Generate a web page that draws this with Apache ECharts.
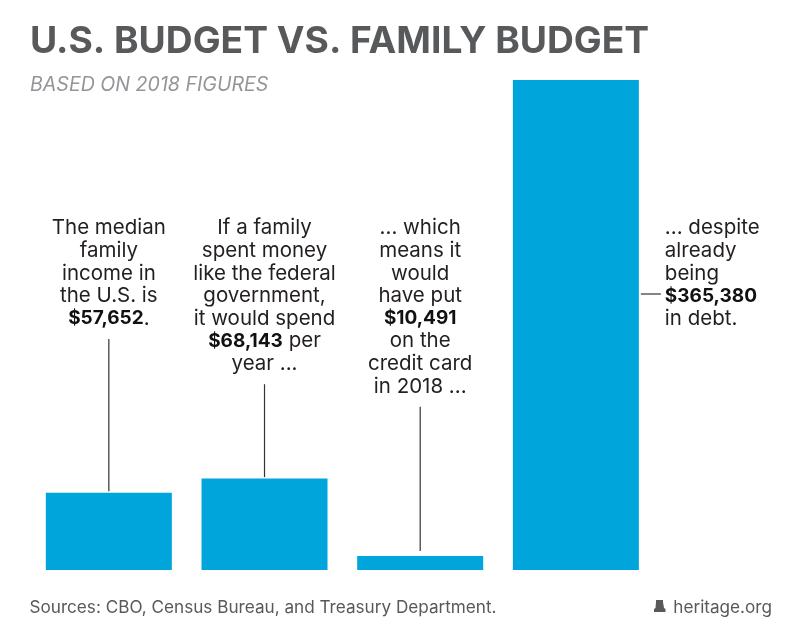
<!DOCTYPE html>
<html>
<head>
<meta charset="utf-8">
<style>
  html, body { margin: 0; padding: 0; background: #fff; }
  #chart { width: 800px; height: 644px; }
</style>
<script src="https://cdn.jsdelivr.net/npm/echarts@6/dist/echarts.min.js"></script>
</head>
<body>
<div id="chart"></div>
<script>
const categories = ['Median income', 'Spending', 'Borrowed', 'Debt'];
const budgetValues = [57652, 68143, 10491, 365380];
const noteTexts = [
  'The median\nfamily\nincome in\nthe U.S. is\n{b|$57,652}.',
  'If a family\nspent money\nlike the federal\ngovernment,\nit would spend\n{b|$68,143} per\nyear ...',
  '... which\nmeans it\nwould\nhave put\n{b|$10,491}\non the\ncredit card\nin 2018 ...',
  '... despite\nalready\nbeing\n{b|$365,380}\nin debt.'
];

const FONT = 'Inter, sans-serif';
const INK = '#231f20';
const LINE_H = 22.6;
const NOTE_SIZE = 20.5;
const NOTE_BOLD_SIZE = 19;

const chart = echarts.init(document.getElementById('chart'), null, { renderer: 'canvas' });

// leaders start just above the bar; the last note sits beside its bar instead
function renderNote(params, api) {
  const i = params.dataIndex;
  const lines = noteTexts[i].split('\n').length;
  const top = api.coord([i, api.value(1)]);
  const x = top[0];
  const richStyle = {
    fontFamily: FONT, fontSize: NOTE_SIZE, fill: INK, lineHeight: LINE_H,
    rich: { b: { fontFamily: FONT, fontSize: NOTE_BOLD_SIZE, fontWeight: 700, fill: '#111', lineHeight: LINE_H } }
  };
  const lineStyle = { stroke: '#333', lineWidth: 1.2 };

  if (i === 3) {
    const y = 294;
    return {
      type: 'group',
      children: [
        { type: 'line', shape: { x1: x + 65, y1: y, x2: x + 85, y2: y }, style: lineStyle },
        { type: 'text', style: { ...richStyle, x: x + 89, y: 217, text: noteTexts[i], align: 'left', verticalAlign: 'top' } }
      ]
    };
  }

  const textTop = 217;
  const lineTop = textTop + lines * LINE_H + 9;
  return {
    type: 'group',
    children: [
      { type: 'line', shape: { x1: x, y1: lineTop, x2: x, y2: top[1] - (i === 2 ? 5 : 1.5) }, style: lineStyle },
      { type: 'text', style: { ...richStyle, x: x, y: textTop, text: noteTexts[i], align: 'center', verticalAlign: 'top' } }
    ]
  };
}

chart.setOption({
  animation: false,
  backgroundColor: '#fff',
  title: [
    { text: 'U.S. BUDGET VS. FAMILY BUDGET', left: 25, top: 18,
      textStyle: { fontFamily: FONT, fontSize: 37.2, fontWeight: 700, color: '#58595b' } },
    { text: 'BASED ON 2018 FIGURES', left: 25, top: 70,
      textStyle: { fontFamily: FONT, fontSize: 19.6, fontWeight: 400, fontStyle: 'italic', color: '#939598' } },
    { text: 'Sources: CBO, Census Bureau, and Treasury Department.', left: 24.5, top: 594,
      textStyle: { fontFamily: FONT, fontSize: 17.15, fontWeight: 400, color: '#58595b' } },
    { text: 'heritage.org', right: 23, top: 594,
      textStyle: { fontFamily: FONT, fontSize: 17.15, fontWeight: 400, color: '#58595b' } }
  ],
  grid: { left: 31, top: 80, width: 622.7, height: 490 },
  xAxis: { type: 'category', data: categories, show: false },
  yAxis: { type: 'value', min: 0, max: 365380, show: false },
  graphic: [{
    // small bell mark beside the site name
    type: 'polygon',
    left: 654, top: 600,
    shape: { points: [[2, 0], [9, 0], [9, 2], [10, 8], [11.5, 9], [11.5, 12], [0, 12], [0, 9], [1.5, 8], [2, 2]] },
    style: { fill: '#58595b' }
  }],
  series: [
    {
      type: 'bar',
      data: budgetValues,
      barWidth: 126,
      itemStyle: { color: '#00a5db' },
      silent: true
    },
    {
      type: 'custom',
      data: budgetValues.map((v, i) => [i, v]),
      renderItem: renderNote,
      encode: { x: 0, y: 1 },
      silent: true,
      z: 5
    }
  ]
});
</script>
</body>
</html>
